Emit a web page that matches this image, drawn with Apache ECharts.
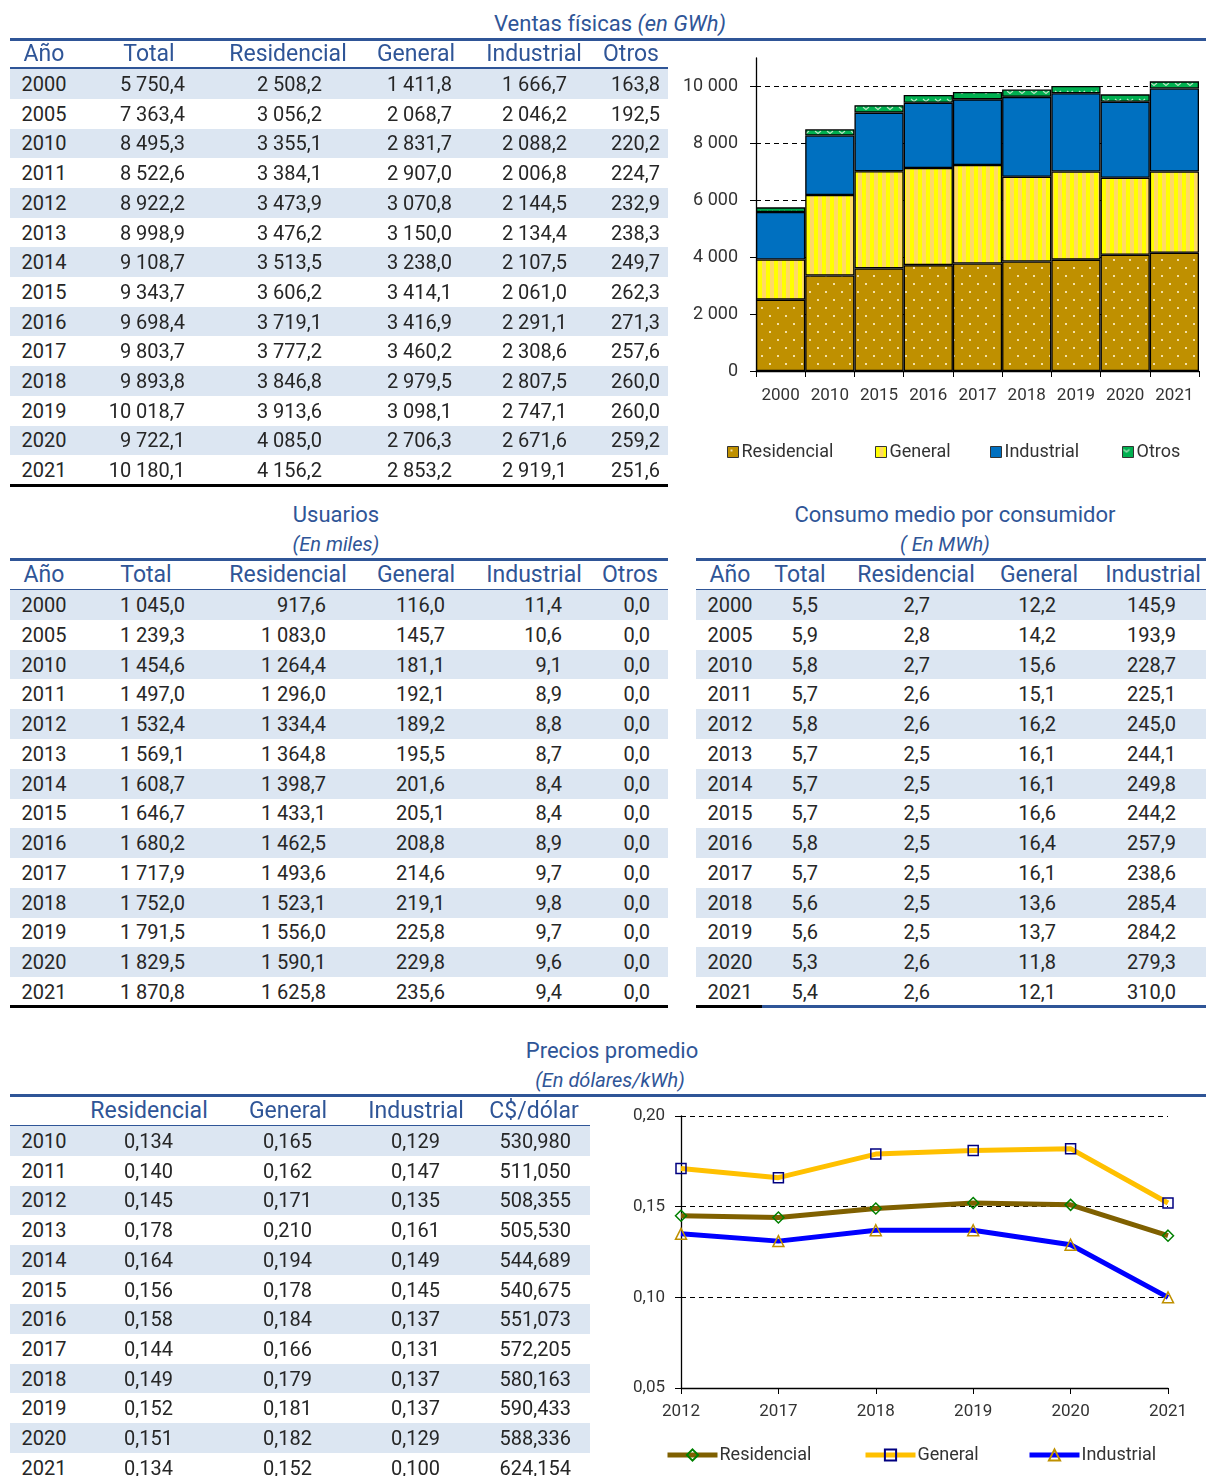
<!DOCTYPE html>
<html><head><meta charset="utf-8">
<script src="https://cdn.jsdelivr.net/npm/echarts@6/dist/echarts.min.js"></script>
<style>
html,body{margin:0;padding:0;background:#fff;}
#page{position:relative;width:1206px;height:1476px;overflow:hidden;font-family:Roboto,"Noto Sans",sans-serif;}
.t{position:absolute;white-space:nowrap;}
</style></head>
<body><div id="page">
<div id="barChart" style="position:absolute;left:670px;top:40px;width:536px;height:440px;"></div>
<div id="lineChart" style="position:absolute;left:600px;top:1100px;width:606px;height:376px;"></div>
</div>
<script>
// ---------- DATA ----------
const ventasYears = [2000,2005,2010,2011,2012,2013,2014,2015,2016,2017,2018,2019,2020,2021];
const ventasTotal = [5750.4,7363.4,8495.3,8522.6,8922.2,8998.9,9108.7,9343.7,9698.4,9803.7,9893.8,10018.7,9722.1,10180.1];
const ventasResidencial = [2508.2,3056.2,3355.1,3384.1,3473.9,3476.2,3513.5,3606.2,3719.1,3777.2,3846.8,3913.6,4085.0,4156.2];
const ventasGeneral = [1411.8,2068.7,2831.7,2907.0,3070.8,3150.0,3238.0,3414.1,3416.9,3460.2,2979.5,3098.1,2706.3,2853.2];
const ventasIndustrial = [1666.7,2046.2,2088.2,2006.8,2144.5,2134.4,2107.5,2061.0,2291.1,2308.6,2807.5,2747.1,2671.6,2919.1];
const ventasOtros = [163.8,192.5,220.2,224.7,232.9,238.3,249.7,262.3,271.3,257.6,260.0,260.0,259.2,251.6];

const usuariosYears = [2000,2005,2010,2011,2012,2013,2014,2015,2016,2017,2018,2019,2020,2021];
const usuariosTotal = [1045.0,1239.3,1454.6,1497.0,1532.4,1569.1,1608.7,1646.7,1680.2,1717.9,1752.0,1791.5,1829.5,1870.8];
const usuariosResidencial = [917.6,1083.0,1264.4,1296.0,1334.4,1364.8,1398.7,1433.1,1462.5,1493.6,1523.1,1556.0,1590.1,1625.8];
const usuariosGeneral = [116.0,145.7,181.1,192.1,189.2,195.5,201.6,205.1,208.8,214.6,219.1,225.8,229.8,235.6];
const usuariosIndustrial = [11.4,10.6,9.1,8.9,8.8,8.7,8.4,8.4,8.9,9.7,9.8,9.7,9.6,9.4];
const usuariosOtros = [0.0,0.0,0.0,0.0,0.0,0.0,0.0,0.0,0.0,0.0,0.0,0.0,0.0,0.0];

const consumoYears = [2000,2005,2010,2011,2012,2013,2014,2015,2016,2017,2018,2019,2020,2021];
const consumoTotal = [5.5,5.9,5.8,5.7,5.8,5.7,5.7,5.7,5.8,5.7,5.6,5.6,5.3,5.4];
const consumoResidencial = [2.7,2.8,2.7,2.6,2.6,2.5,2.5,2.5,2.5,2.5,2.5,2.5,2.6,2.6];
const consumoGeneral = [12.2,14.2,15.6,15.1,16.2,16.1,16.1,16.6,16.4,16.1,13.6,13.7,11.8,12.1];
const consumoIndustrial = [145.9,193.9,228.7,225.1,245.0,244.1,249.8,244.2,257.9,238.6,285.4,284.2,279.3,310.0];

const preciosYears = [2010,2011,2012,2013,2014,2015,2016,2017,2018,2019,2020,2021];
const preciosResidencial = [0.134,0.140,0.145,0.178,0.164,0.156,0.158,0.144,0.149,0.152,0.151,0.134];
const preciosGeneral = [0.165,0.162,0.171,0.210,0.194,0.178,0.184,0.166,0.179,0.181,0.182,0.152];
const preciosIndustrial = [0.129,0.147,0.135,0.161,0.149,0.145,0.137,0.131,0.137,0.137,0.129,0.100];
const tipoCambio = [530.980,511.050,508.355,505.530,544.689,540.675,551.073,572.205,580.163,590.433,588.336,624.154];

const barYears = [2000,2010,2015,2016,2017,2018,2019,2020,2021];
const lineYears = [2012,2017,2018,2019,2020,2021];
const barYTicks = [0,2000,4000,6000,8000,10000];

// ---------- HELPERS ----------
const BLUE = '#2F5597', TXT = '#262626', SHADE = '#DCE6F2';
const page = document.getElementById('page');
function fmt(v, d){
  const s = v.toFixed(d); const p = s.split('.');
  const i = p[0].replace(/\B(?=(\d{3})+(?!\d))/g, ' ');
  return p.length > 1 ? i + ',' + p[1] : i;
}
function box(x, y, w, h, color){
  const d = document.createElement('div');
  d.style.cssText = `position:absolute;left:${x}px;top:${y}px;width:${w}px;height:${h}px;background:${color};`;
  page.appendChild(d);
}
function txt(x, y, s, align, opt){
  opt = opt || {};
  const fs = opt.size || 20;
  const d = document.createElement('div');
  d.className = 't';
  const W = 500;
  let left = align === 'right' ? x - W : (align === 'left' ? x : x - W/2);
  d.style.cssText = `left:${left}px;top:${y - fs*0.7}px;width:${W}px;line-height:${fs*1.4}px;font-size:${fs}px;text-align:${align};color:${opt.color||TXT};font-style:${opt.italic?'italic':'normal'};font-weight:${opt.weight||400};`;
  d.innerHTML = s;
  page.appendChild(d);
}
function table(cfg){
  const n = cfg.years.length;
  for (let i = 0; i < n; i++) {
    const cy = cfg.y0 + i * cfg.step;
    if (i % 2 === 0) box(cfg.x1, cy - cfg.step/2, cfg.x2 - cfg.x1, cfg.step, SHADE);
  }
  cfg.cols.forEach(c => txt(c.hx, cfg.hy, c.h, 'center', {color: BLUE, size: 23}));
  for (let i = 0; i < n; i++) {
    const cy = cfg.y0 + i * cfg.step;
    txt(cfg.yearX, cy, String(cfg.years[i]), 'center');
    cfg.cols.forEach(c => { if (c.data) txt(c.vx, cy, fmt(c.data[i], c.d), c.align || 'right'); });
  }
}

// ---------- TITLES & RULES ----------
txt(610, 24, 'Ventas físicas <i>(en GWh)</i>', 'center', {color: BLUE, size: 22});
box(10, 37.5, 1196, 3, BLUE);
box(10, 66.5, 658, 3, BLUE);
box(10, 484, 658, 3, '#000');

txt(336, 515, 'Usuarios', 'center', {color: BLUE, size: 22});
txt(336, 544, '(En miles)', 'center', {color: BLUE, size: 20, italic: true});
box(10, 557.5, 658, 3, BLUE);
box(10, 588.5, 658, 3, BLUE);
box(10, 1005, 658, 3, '#000');

txt(955, 515, 'Consumo medio por consumidor', 'center', {color: BLUE, size: 22});
txt(945, 544, '( En MWh)', 'center', {color: BLUE, size: 20, italic: true});
box(696, 557.5, 510, 3, BLUE);
box(696, 588.5, 510, 3, BLUE);
box(696, 1005, 66, 3, '#000');
box(762, 1005, 444, 3, BLUE);

txt(612, 1051, 'Precios promedio', 'center', {color: BLUE, size: 22});
txt(610, 1080, '(En dólares/kWh)', 'center', {color: BLUE, size: 20, italic: true});
box(10, 1093.5, 1196, 3, BLUE);
box(10, 1124.5, 580, 3, BLUE);

// ---------- TABLES ----------
table({x1: 10, x2: 668, y0: 84, step: 29.7, hy: 54, yearX: 44, years: ventasYears, cols: [
  {h: 'Año', hx: 44},
  {h: 'Total', hx: 149, vx: 185, data: ventasTotal, d: 1},
  {h: 'Residencial', hx: 288, vx: 322, data: ventasResidencial, d: 1},
  {h: 'General', hx: 416, vx: 452, data: ventasGeneral, d: 1},
  {h: 'Industrial', hx: 534, vx: 567, data: ventasIndustrial, d: 1},
  {h: 'Otros', hx: 631, vx: 660, data: ventasOtros, d: 1}]});

table({x1: 10, x2: 668, y0: 605, step: 29.77, hy: 575, yearX: 44, years: usuariosYears, cols: [
  {h: 'Año', hx: 44},
  {h: 'Total', hx: 146, vx: 185, data: usuariosTotal, d: 1},
  {h: 'Residencial', hx: 288, vx: 326, data: usuariosResidencial, d: 1},
  {h: 'General', hx: 416, vx: 445, data: usuariosGeneral, d: 1},
  {h: 'Industrial', hx: 534, vx: 562, data: usuariosIndustrial, d: 1},
  {h: 'Otros', hx: 630, vx: 650, data: usuariosOtros, d: 1}]});

table({x1: 696, x2: 1206, y0: 605, step: 29.77, hy: 575, yearX: 730, years: consumoYears, cols: [
  {h: 'Año', hx: 730},
  {h: 'Total', hx: 800, vx: 818, data: consumoTotal, d: 1},
  {h: 'Residencial', hx: 916, vx: 930, data: consumoResidencial, d: 1},
  {h: 'General', hx: 1039, vx: 1056, data: consumoGeneral, d: 1},
  {h: 'Industrial', hx: 1153, vx: 1176, data: consumoIndustrial, d: 1}]});

table({x1: 10, x2: 590, y0: 1141, step: 29.7, hy: 1111, yearX: 44, years: preciosYears, cols: [
  {h: 'Residencial', hx: 149, vx: 173, data: preciosResidencial, d: 3},
  {h: 'General', hx: 288, vx: 312, data: preciosGeneral, d: 3},
  {h: 'Industrial', hx: 416, vx: 440, data: preciosIndustrial, d: 3},
  {h: 'C$/dólar', hx: 534, vx: 571, data: tipoCambio, d: 3}]});

// ---------- PATTERNS ----------
function pattern(w, h, draw){
  const c = document.createElement('canvas'); c.width = w; c.height = h;
  draw(c.getContext('2d')); return {image: c, repeat: 'repeat'};
}
const patRes = pattern(16, 16, g => {
  g.fillStyle = '#BF9000'; g.fillRect(0,0,16,16);
  g.fillStyle = '#F3DFA6'; g.fillRect(3,3,2,2); g.fillRect(11,11,2,2);
});
const patGen = pattern(8, 4, g => {
  g.fillStyle = '#FFFF00'; g.fillRect(0,0,8,4);
  g.fillStyle = '#FFD966'; g.fillRect(4,0,4,4);
});
const patOtr = pattern(12, 8, g => {
  g.fillStyle = '#00B050'; g.fillRect(0,0,12,8);
  g.strokeStyle = '#B8E6C4'; g.lineWidth = 1.2;
  g.beginPath(); g.moveTo(1,3); g.lineTo(4,5.5); g.lineTo(7,3); g.stroke();
});

// ---------- BAR CHART ----------
const idx = y => ventasYears.indexOf(y);
const barChart = echarts.init(document.getElementById('barChart'), null, {renderer: 'canvas'});
const barSeries = [
  ['Residencial', ventasResidencial, patRes],
  ['General', ventasGeneral, patGen],
  ['Industrial', ventasIndustrial, '#0070C0'],
  ['Otros', ventasOtros, patOtr]
].map(([name, arr, col]) => ({
  name, type: 'bar', stack: 'v', barCategoryGap: 0,
  data: barYears.map(y => arr[idx(y)]),
  itemStyle: {color: col, borderColor: '#000', borderWidth: 1.3},
  emphasis: {disabled: true}
}));
const legendPos = [52, 200, 315, 447];
barChart.setOption({
  animation: false,
  textStyle: {fontFamily: 'Roboto'},
  grid: {left: 86, right: 7, top: 18, bottom: 109},
  xAxis: {type: 'category', data: barYears.map(String),
    axisLine: {lineStyle: {color: '#000', width: 1.3}},
    axisTick: {show: true, length: 6, lineStyle: {color: '#000'}},
    axisLabel: {color: '#333', fontSize: 17, margin: 16, interval: 0}},
  yAxis: {type: 'value', min: 0, max: 11000, interval: 2000,
    axisLine: {show: true, lineStyle: {color: '#000', width: 1.3}},
    axisTick: {show: true, length: 6, lineStyle: {color: '#000'}},
    axisLabel: {color: '#333', fontSize: 18, margin: 18, showMaxLabel: false,
      formatter: v => barYTicks.includes(v) ? fmt(v, 0) : ''},
    splitLine: {show: true, showMaxLine: false, lineStyle: {color: '#000', type: [5, 4], width: 1.2}}},
  legend: barSeries.map((s, i) => ({
    data: [s.name], left: legendPos[i], top: 398, icon: 'rect', itemWidth: 11, itemHeight: 11,
    itemGap: 0, textStyle: {color: '#333', fontSize: 18, padding: [0, 0, 0, -2]},
    itemStyle: {borderColor: '#333', borderWidth: 1}
  })),
  series: barSeries
});

// ---------- LINE CHART ----------
const pidx = y => preciosYears.indexOf(y);
const lineDefs = [
  ['Residencial', preciosResidencial, '#7F6000', 'diamond', '#008000', 11],
  ['General', preciosGeneral, '#FFC000', 'rect', '#000080', 10],
  ['Industrial', preciosIndustrial, '#0000FF', 'triangle', '#BF9000', 11]
];
const lineChart = echarts.init(document.getElementById('lineChart'), null, {renderer: 'canvas'});
const lineLegendPos = [60, 258, 422];
lineChart.setOption({
  animation: false,
  textStyle: {fontFamily: 'Roboto'},
  grid: {left: 81, right: 38, top: 16, bottom: 88},
  xAxis: {type: 'category', boundaryGap: false, data: lineYears.map(String),
    axisLine: {lineStyle: {color: '#000', width: 1.3}},
    axisTick: {show: true, length: 6, lineStyle: {color: '#000'}},
    axisLabel: {color: '#333', fontSize: 17, margin: 15}},
  yAxis: {type: 'value', min: 0.05, max: 0.20, interval: 0.05,
    axisLine: {show: true, lineStyle: {color: '#000', width: 1.3}},
    axisTick: {show: true, length: 6, lineStyle: {color: '#000'}},
    axisLabel: {color: '#333', fontSize: 17, margin: 16, formatter: v => fmt(v, 2)},
    splitLine: {show: true, showMinLine: false, lineStyle: {color: '#000', type: [5, 4], width: 1.2}}},
  legend: lineDefs.map((d, i) => ({
    data: [d[0]], left: lineLegendPos[i], top: 341, itemWidth: 50, itemHeight: 14, itemGap: 0,
    lineStyle: {width: 5},
    textStyle: {color: '#333', fontSize: 18, padding: [0, 0, 0, -3]}
  })),
  series: lineDefs.map(([name, arr, lc, sym, mc, ss]) => ({
    name, type: 'line', symbol: sym, symbolSize: ss, showAllSymbol: true,
    data: lineYears.map(y => arr[pidx(y)]),
    color: lc,
    lineStyle: {color: lc, width: 5},
    itemStyle: {color: 'rgba(255,255,255,0)', borderColor: mc, borderWidth: 1.5},
    emphasis: {disabled: true}
  }))
});
</script>
</body></html>
